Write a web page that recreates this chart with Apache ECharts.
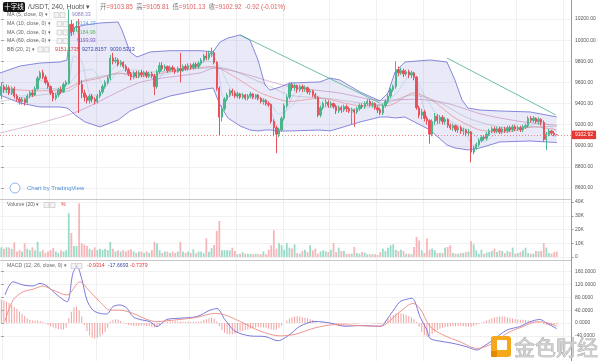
<!DOCTYPE html>
<html><head><meta charset="utf-8">
<script src="https://cdn.jsdelivr.net/npm/echarts@6/dist/echarts.min.js"></script>
<style>html,body{margin:0;padding:0;background:#fff}#c{width:600px;height:361px}</style>
</head><body><div id="c"></div>
<script>
// ---------- DATA ----------
const SLOTS = 220;
const categories = Array.from({length: SLOTS}, (_, i) => String(i));
// [open, close, low, high]
const candles = [
[9480,9560,9440,9600],[9560,9530,9500,9580],[9530,9550,9500,9580],[9550,9500,9480,9570],[9500,9540,9480,9560],
[9540,9470,9450,9560],[9470,9440,9420,9490],[9440,9420,9390,9460],[9420,9440,9390,9460],[9440,9410,9380,9450],
[9410,9470,9400,9490],[9470,9500,9450,9520],[9500,9480,9460,9530],[9480,9540,9470,9560],[9540,9640,9530,9660],
[9640,9690,9620,9710],[9690,9650,9630,9720],[9650,9600,9580,9670],[9600,9560,9540,9620],[9560,9500,9480,9570],
[9500,9450,9420,9520],[9450,9480,9430,9500],[9480,9530,9460,9550],[9530,9510,9490,9560],[9510,9580,9500,9600],
[9580,9600,9560,9620],[9590,10150,9580,10290],[10150,10080,10040,10190],[10080,10120,10050,10160],[10120,10130,10080,10180],
[10130,9580,9310,10200],[9580,9500,9450,9620],[9500,9460,9420,9530],[9460,9430,9400,9480],[9430,9470,9400,9490],
[9470,9440,9410,9490],[9440,9420,9390,9460],[9420,9470,9400,9490],[9470,9510,9450,9530],[9510,9560,9490,9580],
[9560,9600,9540,9620],[9600,9640,9580,9660],[9640,9830,9620,9860],[9830,9800,9770,9880],[9800,9810,9780,9840],
[9810,9770,9750,9830],[9770,9790,9750,9810],[9790,9750,9730,9800],[9750,9720,9700,9770],[9720,9680,9660,9740],
[9680,9650,9620,9700],[9650,9690,9630,9710],[9690,9660,9640,9710],[9660,9690,9640,9710],[9690,9670,9650,9720],
[9670,9690,9650,9710],[9690,9660,9640,9710],[9660,9680,9640,9700],[9680,9660,9640,9700],[9660,9560,9480,9680],
[9560,9700,9540,9720],[9700,9760,9680,9790],[9760,9730,9710,9790],[9730,9750,9710,9770],[9750,9710,9690,9760],
[9710,9740,9700,9760],[9740,9720,9700,9760],[9720,9700,9680,9740],[9700,9730,9690,9750],[9730,9710,9600,9880],
[9710,9750,9700,9770],[9750,9730,9710,9770],[9730,9760,9710,9780],[9760,9740,9720,9780],[9740,9770,9720,9790],
[9770,9750,9730,9790],[9750,9780,9730,9800],[9780,9810,9760,9830],[9810,9850,9790,9870],[9850,9830,9810,9890],
[9830,9870,9810,9900],[9870,9880,9840,9930],[9880,9790,9770,9900],[9790,9545,9520,9800],[9545,9270,9100,9560],
[9270,9350,9230,9380],[9350,9440,9330,9460],[9440,9480,9420,9500],[9480,9520,9460,9540],[9520,9500,9470,9540],
[9500,9470,9450,9520],[9470,9490,9450,9510],[9490,9460,9440,9500],[9460,9480,9440,9500],[9480,9450,9430,9490],
[9450,9470,9430,9490],[9470,9490,9450,9510],[9490,9460,9440,9500],[9460,9480,9440,9490],[9480,9450,9430,9490],
[9450,9420,9400,9460],[9420,9430,9390,9450],[9430,9400,9380,9440],[9400,9390,9370,9420],[9390,9230,9210,9400],
[9230,9170,9090,9250],[9170,9110,8930,9190],[9110,9150,9080,9170],[9150,9260,9130,9280],[9260,9380,9240,9400],
[9380,9460,9360,9480],[9460,9580,9440,9600],[9580,9550,9520,9600],[9550,9570,9520,9590],[9570,9530,9500,9580],
[9530,9560,9510,9580],[9560,9540,9510,9580],[9540,9550,9510,9570],[9550,9510,9490,9560],[9510,9520,9480,9540],
[9520,9480,9460,9530],[9480,9460,9440,9500],[9460,9290,9270,9470],[9290,9360,9270,9380],[9360,9400,9340,9420],
[9400,9410,9370,9440],[9410,9380,9360,9430],[9380,9400,9360,9420],[9400,9370,9350,9410],[9370,9330,9300,9390],
[9330,9360,9310,9380],[9360,9340,9310,9380],[9340,9370,9320,9390],[9370,9350,9320,9390],[9350,9330,9310,9370],
[9330,9340,9200,9360],[9340,9320,9180,9350],[9320,9350,9300,9370],[9350,9380,9330,9400],[9380,9370,9350,9400],
[9370,9400,9350,9420],[9400,9420,9380,9440],[9420,9390,9370,9440],[9390,9400,9360,9420],[9400,9360,9340,9410],
[9360,9340,9310,9380],[9340,9310,9290,9360],[9310,9380,9290,9400],[9380,9420,9360,9440],[9420,9470,9400,9490],
[9470,9530,9450,9550],[9530,9560,9510,9580],[9560,9720,9540,9800],[9720,9690,9660,9750],[9690,9710,9670,9740],
[9710,9680,9650,9730],[9680,9700,9660,9720],[9700,9670,9640,9720],[9670,9690,9640,9710],[9690,9650,9620,9700],
[9650,9360,9340,9660],[9360,9290,9260,9380],[9290,9320,9250,9350],[9320,9260,9230,9340],[9260,9240,9200,9280],
[9240,9110,9020,9250],[9110,9230,9090,9250],[9230,9280,9200,9310],[9280,9240,9210,9300],[9240,9270,9210,9290],
[9270,9230,9200,9290],[9230,9250,9200,9270],[9250,9190,9170,9260],[9190,9170,9150,9210],[9170,9190,9140,9210],
[9190,9150,9130,9200],[9150,9170,9120,9190],[9170,9140,9110,9190],[9140,9150,9100,9170],[9150,9120,9090,9160],
[9120,9130,9090,9160],[9130,8940,8845,9140],[8940,8980,8920,9000],[8980,9010,8960,9030],[9010,9050,8990,9070],
[9050,9080,9030,9100],[9080,9070,9050,9100],[9070,9110,9050,9130],[9110,9140,9090,9160],[9140,9160,9120,9180],
[9160,9140,9120,9180],[9140,9160,9120,9180],[9160,9130,9110,9180],[9130,9160,9110,9180],[9160,9140,9120,9180],
[9140,9170,9120,9190],[9170,9150,9130,9190],[9150,9180,9130,9200],[9180,9160,9140,9200],[9160,9170,9140,9190],
[9170,9150,9130,9190],[9150,9180,9130,9200],[9180,9190,9160,9210],[9190,9260,9170,9280],[9260,9240,9220,9280],
[9240,9260,9220,9280],[9260,9230,9210,9270],[9230,9250,9200,9270],[9250,9220,9190,9260],[9220,9060,9040,9240],
[9060,9110,8960,9130],[9110,9140,9090,9160],[9140,9120,9100,9150],[9120,9104,9090,9140],[9103.85,9102.92,9101.13,9105.81]
];
// volume in thousands
const volumesK = [
7,6,7,7,6,10.7,4,5,4,10,
6,5,7,5,11,4,5,3,4,5,
6.5,4,3,5,4,5,31.8,17.5,8,8,
39,10,9,8,6,5,7,5,6,5,
6,5,11,6,4,5,4,5,4,5,
5.6,4,3,4,4,3,4,3,5,11,
10,5,3,4,4,3,4,3,4,11,
4,3,4,3,5.6,2.7,3.9,3.9,2.7,13.6,
3.9,6.5,8.7,19,26.2,4.9,4.9,4.9,4.9,6.8,
4.4,2,2.4,3.6,2.4,2.4,2.4,2,2.4,2,
2,4.1,2,5.3,8.5,19.4,6.1,10.2,8.5,5.3,
10.2,6.8,6.1,9.2,2.9,2.4,4.4,5.3,3.6,8.5,
4.9,6.1,2.4,4.1,4.9,4.1,3.6,5.3,10.2,3.6,
6.8,4.4,4.4,2.4,2.4,2.4,7.3,2.9,2.4,3.6,
3.2,2,2,2,2,1.5,3.6,6.1,4.4,6.8,
8.5,9.2,5.3,4.4,5.3,4.4,2.4,2.4,2,7.3,
14.6,12.1,4.9,2.9,13.4,5.3,6.1,4.9,2.9,2.9,
2.9,6.8,7.3,8.5,2.9,2.4,2.4,2.9,2.9,3.6,
4,11.4,9.2,4.9,2.4,5.3,2.4,3.2,3.6,4.4,
6.1,3.6,4.9,4.4,2.9,4.4,3.6,6.8,2.4,2.9,
3.6,4.9,6.8,2.9,2.4,2.4,4.4,4.1,4.4,10.2,
6.8,2.9,2.4,3.6,4
];
const macdHist = [
72,70,66,62,57,50,44,36,28,22,
15,10,8,8,8,6,4,-2,-6,-10,
-14,-17,-19,-20,-20,-15,15,35,48,51,
40,20,-5,-25,-38,-46,-48,-46,-42,-36,
-28,-15,5,10,12,10,6,2,-3,-6,
-8,-9,-9,-9,-8,-8,-9,-10,-12,-13,
-12,-6,-2,2,4,5,5,6,5,5,
4,4,5,4,3,4,4,6,9,12,
15,16,14,5,-10,-22,-30,-34,-36,-35,
-33,-30,-27,-24,-22,-20,-18,-16,-14,-13,
-13,-14,-15,-18,-20,-22,-20,-15,-8,0,
8,14,18,20,21,20,18,16,14,12,
9,5,0,2,3,3,2,0,-2,-4,
-5,-4,-3,-2,-2,-1,-2,-2,-1,0,
1,1,0,-1,-2,-3,-3,2,8,14,
20,25,29,31,30,28,25,22,18,12,
3,-12,-28,-38,-42,-40,-34,-28,-22,-18,
-15,-13,-12,-11,-10,-10,-9,-9,-10,-11,
-11,-12,-10,-7,-3,2,5,8,11,14,
17,19,20,21,20,18,16,14,12,11,
10,10,9,8,6,5,4,3,1,-3,
-5,-6,-6,-5,-4
];
const difPoints = [[1.4,87],[4.5,128],[8.4,118],[12.2,115],[14.9,123],[17.6,115],[21.5,87],[25.3,66],[27.6,155],[29.2,175],[31.1,134],[33,71],[35.3,40],[38,30],[40.7,28],[43,51],[45.7,56],[48.4,46],[50.7,20],[53.4,11],[57.3,4],[60,-11],[61.1,-6],[63.8,11],[68.9,15],[75.4,20],[80.4,40],[83.1,45],[86.2,10],[90,-25],[95.8,-40],[101.6,-42],[106.6,-55],[111.2,-35],[115.1,-10],[120.9,5],[126.6,0],[132.4,-10],[138.2,-8],[145.9,-10],[149.8,25],[153.6,66],[156.3,74],[158.2,77],[159.4,66],[161.3,20],[164,-22],[165.2,-48],[170.2,-58],[174,-63],[179.4,-74],[183.3,-84],[185.6,-74],[189.4,-53],[194.8,-22],[199.8,-11],[203.7,4],[207.5,11],[210.2,-1],[212.6,-11],[214,-17.67]];
const deaPoints = [[1.4,5],[4.5,71],[8.4,97],[12.2,105],[16.1,115],[19.9,102],[25.3,87],[30.3,128],[34.2,97],[38,66],[41.9,40],[45.7,40],[50.7,30],[56.1,11],[60,4],[63.8,7],[68.9,11],[75.4,18],[82.3,30],[86.2,25],[92,5],[99.7,-25],[107.4,-40],[113.2,-35],[120.9,-15],[128.6,-5],[138.2,-8],[145.9,-10],[153.6,35],[158.6,61],[161.3,46],[165.2,-11],[170.2,-37],[176.7,-58],[183.3,-79],[189.4,-63],[194.8,-32],[201,-11],[206.4,4],[210.2,1],[214,-10]];
const bbIdx   = [-0.5,7.2,14.9,22.6,25.3,26.5,28.4,32.3,38,45,46.5,49.6,52.3,57.3,65,76.6,81.6,84.3,87.3,92,95.8,98.9,101.6,103.5,107.4,111.2,122.8,126.6,130.5,138.2,145.9,149,151.7,155.5,165.2,171.7,174.8,177.5,179.8,184.4,192.1,203.7,214];
const bbUpper = [9689,9755,9783,9793,9812,10067,10124,10143,10162,10172,10096,9888,9840,9888,9900,9900,9890,9982,10020,10049,10001,9812,9575,9527,9556,9594,9604,9641,9622,9509,9424,9500,9698,9793,9812,9793,9622,9433,9357,9338,9329,9320,9272.8];
const bbLower = [9480,9405,9367,9367,9357,9338,9291,9225,9178,9244,9272,9329,9357,9405,9471,9528,9547,9386,9263,9187,9149,9140,9149,9149,9140,9140,9149,9140,9168,9225,9272,9272,9263,9272,9149,9007,8979,8969,8960,8979,9036,9045,9030.5];
const bbBasis = [[-0.5,9540],[14.9,9520],[25.3,9540],[30,9600],[38,9640],[45,9690],[52.3,9650],[65,9700],[81.6,9750],[90,9650],[100,9500],[111.2,9420],[122.8,9450],[138.2,9380],[149,9380],[159,9500],[166,9430],[175,9260],[184.4,9150],[195,9130],[205,9180],[214,9151.17]];
const ma5 = [[-0.5,9530],[5,9490],[9,9420],[15,9620],[19,9560],[22,9490],[26,9620],[28,9850],[31,9800],[34,9500],[38,9470],[42,9700],[46,9790],[50,9690],[55,9680],[60,9620],[64,9740],[70,9720],[76,9760],[81,9860],[83,9800],[86,9440],[90,9490],[100,9440],[104,9320],[107,9150],[110,9350],[115,9550],[121,9480],[124,9370],[130,9360],[136,9310],[141,9400],[146,9330],[150,9480],[154,9700],[159,9660],[162,9420],[166,9190],[172,9240],[178,9150],[182,9000],[186,9070],[192,9150],[200,9160],[206,9240],[210,9120],[214,9088.33]];
const ma10 = [[-0.5,9520],[8,9470],[15,9540],[22,9540],[26,9580],[30,9700],[35,9720],[40,9560],[45,9700],[52,9720],[60,9660],[70,9730],[80,9800],[84,9760],[88,9560],[95,9460],[103,9420],[107,9300],[112,9380],[118,9540],[125,9420],[135,9350],[145,9380],[152,9490],[158,9680],[163,9480],[170,9230],[180,9150],[186,9040],[192,9140],[203,9180],[208,9230],[214,9134.27]];
const ma30 = [[-0.5,9420],[15,9480],[26,9520],[32,9620],[45,9680],[60,9700],[75,9730],[84,9740],[100,9600],[111,9480],[125,9450],[146,9390],[158,9480],[168,9420],[180,9260],[195,9170],[214,9184.96]];
const ma60 = [[-0.5,9120],[15,9215],[30,9330],[53.5,9600],[76.6,9690],[82,9735],[111,9560],[130,9500],[146,9430],[160,9440],[172,9400],[185,9300],[200,9230],[214,9193.93]];
const trend1 = [[92,10049],[145.9,9405]];
const trend2 = [[171.7,9831],[213.7,9291]];

// ---------- CHART ----------
const FONT = '"Liberation Sans", Arial, sans-serif';
const CJK = '"Noto Sans CJK SC", sans-serif';
const UP = '#4bb58d', DOWN = '#e8525c';
const lastClose = candles[candles.length - 1][1];
const zip = (xs, ys) => xs.map((x, i) => [x, ys[i]]);
const volData = volumesK.map((v, i) => ({value: v * 1000, itemStyle: {color: candles[i][1] >= candles[i][0] ? '#98dcc7' : '#f6b6b9'}}));

function lineS(name, data, color, w, extra) {
  return Object.assign({name, type: 'line', xAxisIndex: 1, yAxisIndex: 0, data, symbol: 'none', smooth: 0.25,
    clip: false, silent: true, lineStyle: {color, width: w}, z: 2}, extra || {});
}
const axisLbl = (fmt) => ({fontSize: 5, color: '#555', margin: 4, fontFamily: FONT, formatter: fmt});
const yBase = {type: 'value', position: 'right', axisLine: {show: false},
  axisTick: {show: true, length: 2.5, lineStyle: {color: '#999'}}, splitLine: {lineStyle: {color: '#f1f1f1'}}};

const g = [];
function txt(x, y, t, fill, size, font, align) {
  g.push({type: 'text', x, y, z: 100, style: {text: t, fill, fontSize: size, fontFamily: font || FONT,
    textAlign: align || 'left', verticalAlign: 'middle', textVerticalAlign: 'middle'}});
}
function btns(x, y) {
  [0, 6].forEach(d => g.push({type: 'rect', z: 100, shape: {x: x + d, y: y - 2.5, width: 5, height: 5},
    style: {fill: '#f4f4f4', stroke: '#b5b5b5', lineWidth: 0.5}}));
}
// header
g.push({type: 'rect', z: 100, shape: {x: 3, y: 2, width: 22, height: 10, r: 2}, style: {fill: '#141414'}});
txt(14, 7, '十字线', '#fff', 6.5, CJK, 'center');
txt(28, 7, '/USDT, 240, Huobi ▾', '#555', 6.8);
g.push({type: 'text', x: 100, y: 7, z: 100, style: {
  text: '{l|开}{v|=9103.85}  {l|高}{v|=9105.81}  {l|低}{v|=9101.13}  {l|收}{v|=9102.92}  {v|-0.92 (-0.01%)}',
  fontSize: 6.3, fontFamily: FONT, verticalAlign: 'middle', textVerticalAlign: 'middle',
  rich: {l: {fill: '#777', fontFamily: CJK, fontSize: 6.3}, v: {fill: '#e0605f', fontFamily: FONT, fontSize: 6.3}}}});
const rows = [
  [15, 'MA (5, close, 0) ▾', 54, [[72,'9088.33','#8e7cc3']]],
  [24, 'MA (10, close, 0) ▾', 57, [[77,'9134.27','#5b9bd5']]],
  [32.5, 'MA (30, close, 0) ▾', 57, [[77,'9184.96','#5cb85c']]],
  [41, 'MA (60, close, 0) ▾', 57, [[77,'9193.93','#7e57c2']]],
  [49.5, 'BB (20, 2) ▾', 38, [[55,'9151.1735','#e53935'],[82,'9272.8157','#3949ab'],[110,'9030.5313','#3949ab']]],
  [205, 'Volume (20) ▾', 44, [[61,'%','#e53935']]],
  [266, 'MACD (12, 26, close, 9) ▾', 71, [[87,'-0.9314','#e53935'],[108,'-17.6693','#3949ab'],[130,'-0.7379','#e53935']]]
];
rows.forEach(([y, l, bx, vals]) => { txt(7, y, l, '#666', 5.2); btns(bx, y); vals.forEach(([x,t,c]) => txt(x, y, t, c, 5.2)); });
// pane separators
[199.5, 260.5].forEach(y => g.push({type: 'line', z: 50, shape: {x1: 0, y1: y, x2: 571, y2: y}, style: {stroke: '#c9c9c9', lineWidth: 1}}));
// chart by tradingview
g.push({type: 'circle', z: 100, shape: {cx: 15, cy: 188, r: 5}, style: {fill: '#fff', stroke: '#8fb8e6', lineWidth: 1}});
txt(27, 188, 'Chart by TradingView', '#4a8fdb', 6);
// watermark
g.push({type: 'rect', z: 120, shape: {x: 491, y: 336, width: 20, height: 21, r: 3}, style: {fill: '#f5a81c'}});
g.push({type: 'rect', z: 121, shape: {x: 497, y: 340, width: 10, height: 10, r: 1}, style: {fill: '#fff'}});
g.push({type: 'rect', z: 121, shape: {x: 491, y: 351, width: 6, height: 6, r: 1}, style: {fill: '#e08a00'}});
g.push({type: 'text', x: 514, y: 347, z: 120, style: {text: '金色财经', fill: 'rgba(205,205,205,0.9)', stroke: '#9a9a9a', lineWidth: 0.6,
  fontSize: 21, fontFamily: CJK, verticalAlign: 'middle', textVerticalAlign: 'middle'}});

const option = {
  animation: false,
  backgroundColor: '#fff',
  grid: [
    {left: 0, top: 19, width: 571, height: 169},
    {left: 0, top: 202, width: 571, height: 55},
    {left: 0, top: 271.5, width: 571, height: 64.4},
    {left: 0, top: 0, width: 571, height: 361}
  ],
  xAxis: [
    {type: 'category', gridIndex: 0, data: categories, show: false},
    {type: 'value', gridIndex: 0, min: -0.5, max: SLOTS - 0.5, show: false},
    {type: 'category', gridIndex: 1, data: categories, show: false},
    {type: 'category', gridIndex: 2, data: categories, show: false},
    {type: 'value', gridIndex: 2, min: -0.5, max: SLOTS - 0.5, show: false},
    {type: 'category', gridIndex: 3, data: categories, axisLine: {show: false}, axisTick: {show: false}, axisLabel: {show: false},
      splitLine: {show: true, interval: (i) => i % 18 === 1, lineStyle: {color: '#f0f0f0', width: 1}}}
  ],
  yAxis: [
    Object.assign({}, yBase, {gridIndex: 0, min: 8600, max: 10200, interval: 200, axisLabel: axisLbl(v => v.toFixed(2))}),
    Object.assign({}, yBase, {gridIndex: 1, min: 0, max: 40000, interval: 10000, axisLabel: axisLbl(v => v === 0 ? '0' : (v / 1000) + 'K')}),
    Object.assign({}, yBase, {gridIndex: 2, min: -40, max: 160, interval: 40, axisLabel: axisLbl(v => v.toFixed(4))}),
    {type: 'value', gridIndex: 3, position: 'right', min: 0, max: 1, axisLine: {show: true, lineStyle: {color: '#9a9a9a', width: 1}},
      axisTick: {show: false}, axisLabel: {show: false}, splitLine: {show: false}}
  ],
  series: [
    {type: 'custom', xAxisIndex: 1, yAxisIndex: 0, data: [[100, 9500]], silent: true, z: 1, clip: false,
      renderItem: function (params, api) {
        const top = bbIdx.map((x, i) => api.coord([x, bbUpper[i]]));
        const bot = bbIdx.map((x, i) => api.coord([x, bbLower[i]])).reverse();
        return {type: 'polygon', shape: {points: top.concat(bot)}, style: {fill: 'rgba(124,124,214,0.17)', stroke: null}};
      }},
    lineS('bbUpper', zip(bbIdx, bbUpper), '#7a7ad8', 0.9, {smooth: false}),
    lineS('bbLower', zip(bbIdx, bbLower), '#7a7ad8', 0.9, {smooth: false}),
    lineS('bbBasis', bbBasis, 'rgba(226,110,110,0.75)', 0.7),
    lineS('ma60', ma60, 'rgba(170,90,160,0.6)', 0.7),
    lineS('ma30', ma30, 'rgba(150,150,170,0.6)', 0.7),
    lineS('ma10', ma10, 'rgba(110,190,200,0.55)', 0.6),
    lineS('ma5', ma5, 'rgba(160,150,215,0.55)', 0.6),
    lineS('trend1', trend1, '#4cae8e', 0.8, {smooth: false}),
    lineS('trend2', trend2, '#4cae8e', 0.8, {smooth: false}),
    {type: 'candlestick', xAxisIndex: 0, yAxisIndex: 0, data: candles, clip: false, barWidth: 1.8, z: 3,
      itemStyle: {color: UP, color0: DOWN, borderColor: UP, borderColor0: DOWN, borderWidth: 1},
      markLine: {symbol: ['none', 'none'], silent: true, animation: false, data: [{yAxis: lastClose}],
        lineStyle: {color: '#ef6b6b', type: [1, 2], width: 0.8},
        label: {show: true, position: 'end', formatter: lastClose.toFixed(2), color: '#fff', backgroundColor: '#e53935',
          fontSize: 5, fontFamily: FONT, padding: [2, 3, 1.5, 3], distance: 1}}},
    {type: 'bar', xAxisIndex: 2, yAxisIndex: 1, data: volData, barWidth: 1.8, silent: true},
    {type: 'bar', xAxisIndex: 3, yAxisIndex: 2, data: macdHist, barWidth: 1, clip: false, silent: true, itemStyle: {color: '#f2a0a0'}},
    {type: 'line', xAxisIndex: 4, yAxisIndex: 2, data: difPoints, symbol: 'none', smooth: 0.3, clip: false, silent: true, lineStyle: {color: '#6b6bd8', width: 0.9}},
    {type: 'line', xAxisIndex: 4, yAxisIndex: 2, data: deaPoints, symbol: 'none', smooth: 0.3, clip: false, silent: true, lineStyle: {color: '#ec8a84', width: 0.9}}
  ],
  graphic: g
};
const chart = echarts.init(document.getElementById('c'), null, {renderer: 'canvas'});
chart.setOption(option);
</script>
</body></html>
